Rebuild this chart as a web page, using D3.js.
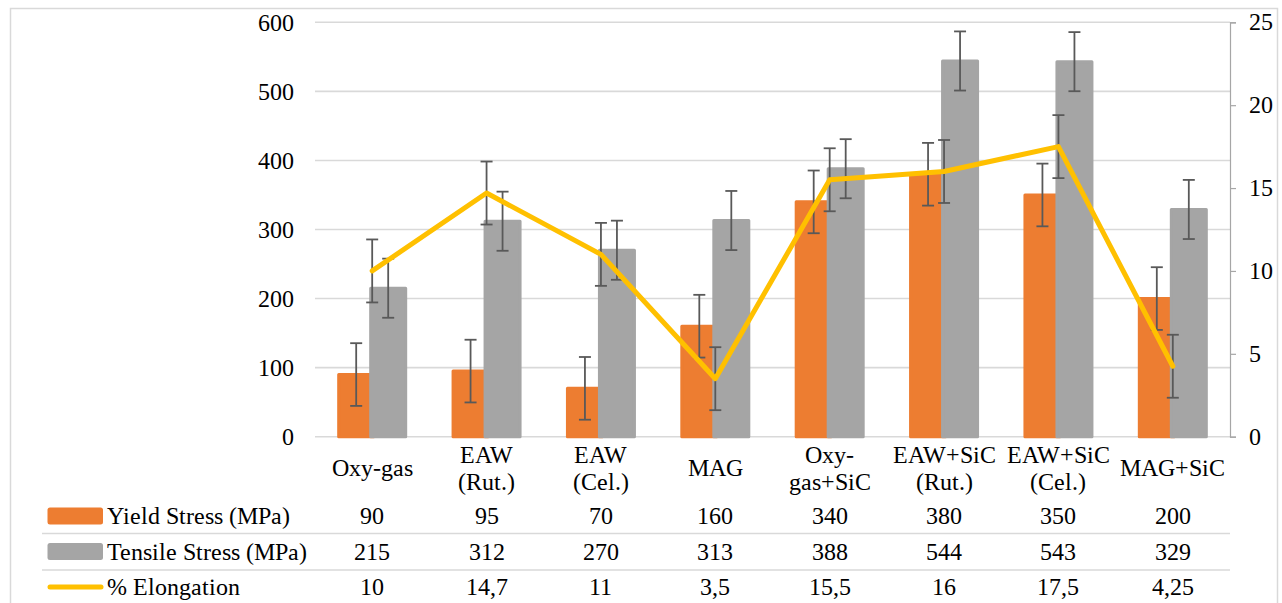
<!DOCTYPE html>
<html><head><meta charset="utf-8">
<script src="https://cdn.jsdelivr.net/npm/d3@7/dist/d3.min.js"></script>
<style>
@font-face{font-family:"SerifX";src:local("Liberation Serif"),local("LiberationSerif"),local("LiberationSerif-Regular"),local("Times New Roman"),local("TimesNewRomanPSMT"),local("DejaVu Serif"),local("DejaVuSerif"),local("Noto Serif"),local("NotoSerif-Regular");}
body{margin:0;background:#fff;}
</style>
</head><body>
<svg id="chart" width="1282" height="603"></svg>
<script>
// ---- data ----
const categories = [["Oxy-gas"],["EAW","(Rut.)"],["EAW","(Cel.)"],["MAG"],["Oxy-","gas+SiC"],["EAW+SiC","(Rut.)"],["EAW+SiC","(Cel.)"],["MAG+SiC"]];
const yieldStress = [90,95,70,160,340,380,350,200];
const tensileStress = [215,312,270,313,388,544,543,329];
const elongation = [10,14.7,11,3.5,15.5,16,17.5,4.25];
const yieldLabels = ["90","95","70","160","340","380","350","200"];
const tensileLabels = ["215","312","270","313","388","544","543","329"];
const elongationLabels = ["10","14,7","11","3,5","15,5","16","17,5","4,25"];
const yieldError = [45.4,45.4,45.4,45.4,45.4,45.4,45.4,45.4];
const tensileError = [42.8,42.8,42.8,42.8,42.8,42.8,42.8,42.8];
const elongationError = [1.9,1.9,1.9,1.9,1.9,1.9,1.9,1.9];
const leftTicks = [0,100,200,300,400,500,600];
const rightTicks = [0,5,10,15,20,25];
const seriesNames = ["Yield Stress (MPa)","Tensile Stress (MPa)","% Elongation"];
const colors = ["#ED7D31","#A5A5A5","#FFC000"];

// ---- layout ----
const FONT = "SerifX, 'Liberation Serif', 'DejaVu Serif', serif";
const svg = d3.select("#chart").style("font-family", FONT);
const plot = {left:315, right:1230, top:22.3, bottom:436.7};
const fs = 23.5;
const T = sel => sel.style("font-family", FONT).style("font-size", fs + "px").attr("fill", "#000");

svg.append("rect").attr("x",10.5).attr("y",8.5).attr("width",1267).attr("height",620)
  .attr("fill","none").attr("stroke","#d9d9d9").attr("stroke-width",1.5);

const x = d3.scaleBand().domain(d3.range(categories.length)).range([plot.left, plot.right]);
const yL = d3.scaleLinear().domain([0,600]).range([plot.bottom, plot.top]);
const yR = d3.scaleLinear().domain([0,25]).range([plot.bottom, plot.top]);
const cx = i => x(i) + x.bandwidth()/2;
const barW = 35, off = 16;

// gridlines
svg.append("g").selectAll("line").data(leftTicks).join("line")
  .attr("x1",plot.left).attr("x2",plot.right)
  .attr("y1",d=>yL(d)).attr("y2",d=>yL(d))
  .attr("stroke","#d9d9d9").attr("stroke-width",1.6);

// left axis labels
svg.append("g").selectAll("text").data(leftTicks).join("text")
  .attr("x",294).attr("y",d=>yL(d)).attr("dy","0.35em")
  .attr("text-anchor","end").call(T).text(d=>d);

// right axis
const rAxis = svg.append("g").attr("transform",`translate(${plot.right},0)`)
  .call(d3.axisRight(yR).tickValues(rightTicks).tickSize(6).tickPadding(13));
rAxis.attr("font-family", null).attr("font-size", null);
rAxis.select(".domain").attr("stroke","#a6a6a6").attr("stroke-width",1.2);
rAxis.selectAll(".tick line").attr("stroke","#a6a6a6").attr("stroke-width",1.2);
rAxis.selectAll(".tick text").call(T);

// bars
function bars(vals, color, dx){
  svg.append("g").selectAll("rect").data(vals).join("rect")
    .attr("x",(d,i)=>cx(i)+dx-barW/2).attr("width",barW)
    .attr("y",d=>yL(d)).attr("height",d=>yL(0)-yL(d))
    .attr("fill",color).attr("stroke",color).attr("stroke-width",3)
    .attr("stroke-linejoin","round");
}
bars(yieldStress, colors[0], -off);
bars(tensileStress, colors[1], off);

// error bars
function errs(vals, errsArr, scale, dx){
  const g = svg.append("g").attr("stroke","#595959").attr("stroke-width",1.8).attr("fill","none");
  vals.forEach((v,i)=>{
    const xx = cx(i)+dx, y1 = scale(v+errsArr[i]), y2 = scale(v-errsArr[i]);
    g.append("line").attr("x1",xx).attr("x2",xx).attr("y1",y1).attr("y2",y2);
    g.append("line").attr("x1",xx-6).attr("x2",xx+6).attr("y1",y1).attr("y2",y1);
    g.append("line").attr("x1",xx-6).attr("x2",xx+6).attr("y1",y2).attr("y2",y2);
  });
}
errs(yieldStress, yieldError, yL, -off);
errs(tensileStress, tensileError, yL, off);
errs(elongation, elongationError, yR, 0);

// line
const line = d3.line().x((d,i)=>cx(i)).y(d=>yR(d));
svg.append("path").datum(elongation).attr("d",line)
  .attr("fill","none").attr("stroke",colors[2]).attr("stroke-width",5)
  .attr("stroke-linejoin","round").attr("stroke-linecap","round");

// category labels
categories.forEach((c,i)=>{
  const t = svg.append("text").attr("x",cx(i)).attr("text-anchor","middle").call(T);
  if(c.length===1){
    t.attr("y",468).attr("dy","0.35em").text(c[0]);
  } else {
    t.append("tspan").attr("x",cx(i)).attr("y",455).attr("dy","0.35em").text(c[0]);
    t.append("tspan").attr("x",cx(i)).attr("y",481.5).attr("dy","0.35em").text(c[1]);
  }
});

// data table
const rowY = [516, 551.5, 587];
const rowLabels = [yieldLabels, tensileLabels, elongationLabels];
[533.5, 570].forEach(y=>{
  svg.append("line").attr("x1",42).attr("x2",plot.right).attr("y1",y).attr("y2",y)
    .attr("stroke","#d9d9d9").attr("stroke-width",1.6);
});
rowY.forEach((ry,r)=>{
  if(r<2){
    svg.append("rect").attr("x",47.5).attr("y",ry-8.5).attr("width",55.5).attr("height",17)
      .attr("rx",2.5).attr("fill",colors[r]);
  } else {
    svg.append("line").attr("x1",50).attr("x2",101).attr("y1",ry).attr("y2",ry)
      .attr("stroke",colors[r]).attr("stroke-width",5).attr("stroke-linecap","round");
  }
  svg.append("text").attr("x",107).attr("y",ry).attr("dy","0.35em").call(T).text(seriesNames[r]);
  svg.append("g").selectAll("text").data(rowLabels[r]).join("text")
    .attr("x",(d,i)=>cx(i)).attr("y",ry).attr("dy","0.35em").attr("text-anchor","middle")
    .call(T).text(d=>d);
});
</script>
</body></html>
